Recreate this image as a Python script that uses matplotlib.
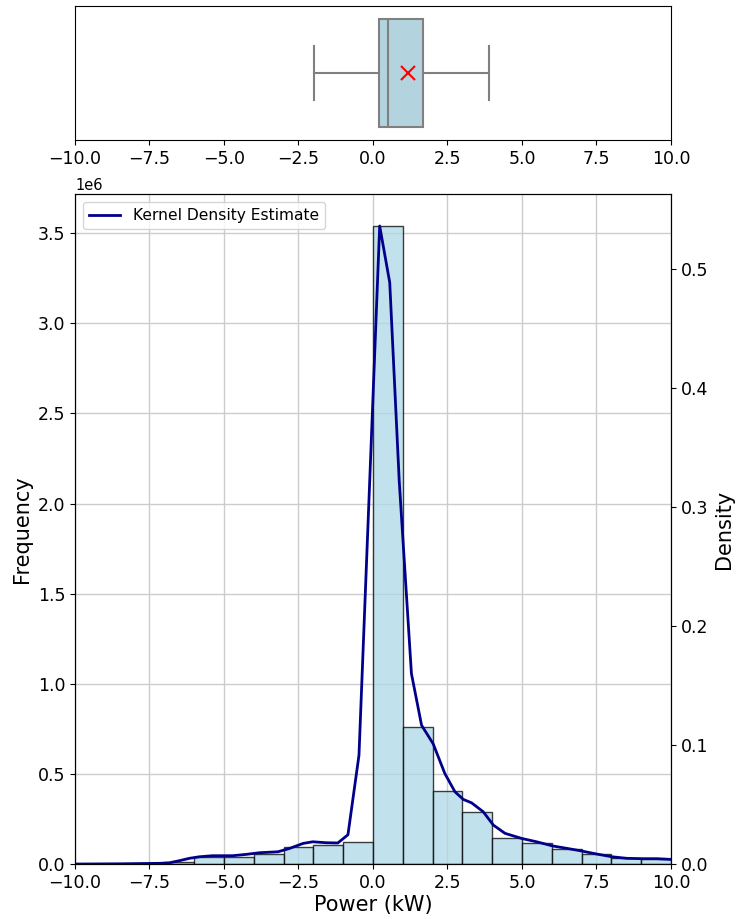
import numpy as np
import matplotlib
matplotlib.use("Agg")
import matplotlib.pyplot as plt

# histogram: 1 kW bins from -10 to 10, counts
bin_edges = list(range(-10, 11))
counts = [0, 0, 0.001e6, 0.009e6, 0.04e6, 0.04e6, 0.056e6, 0.095e6, 0.108e6, 0.12e6,
          3.54e6, 0.762e6, 0.406e6, 0.29e6, 0.147e6, 0.115e6, 0.086e6, 0.055e6, 0.031e6, 0.03e6]

# kernel density estimate (vertices of the polyline)
kde_x = [-10.0, -8.5, -7.17, -6.84, -6.50, -6.16, -5.83, -5.38, -4.71, -4.26, -3.81,
         -3.19, -2.80, -2.35, -2.02, -1.57, -1.18, -0.84, -0.47, 0.225, 0.562, 0.88,
         1.29, 1.63, 2.02, 2.41, 2.75, 3.03, 3.31, 3.70, 4.04, 4.43, 4.99, 5.49,
         6.05, 6.50, 6.95, 7.51, 8.02, 8.52, 9.02, 9.53, 10.0]
kde_y = [0.0, 0.0002, 0.0006, 0.001, 0.0028, 0.0048, 0.0061, 0.007, 0.007, 0.0081, 0.0095,
         0.0103, 0.0131, 0.0173, 0.0187, 0.0179, 0.0177, 0.0246, 0.0914, 0.536, 0.4885, 0.322,
         0.160, 0.1166, 0.101, 0.0761, 0.0607, 0.0543, 0.0514, 0.0439, 0.0327, 0.0258, 0.0215, 0.0187,
         0.0151, 0.0132, 0.0112, 0.0084, 0.0061, 0.0048, 0.0045, 0.0045, 0.0039]

# box plot summary
box_stats = dict(whislo=-1.97, q1=0.2, med=0.52, q3=1.68, whishi=3.88, mean=1.19, fliers=[])

plt.rcParams['font.family'] = ['DejaVu Sans']

fig = plt.figure(figsize=(7.38, 9.19), dpi=100)
ax_box = fig.add_axes([0.1016, 0.8477, 0.8076, 0.1458])
ax = fig.add_axes([0.1016, 0.0598, 0.8076, 0.7290])

# top: box plot
ax_box.bxp([box_stats], vert=False, widths=0.8, patch_artist=True, showmeans=True,
           boxprops=dict(facecolor='#b3d4df', edgecolor='#808080', linewidth=1.5),
           medianprops=dict(color='#808080', linewidth=1.5),
           whiskerprops=dict(color='#808080', linewidth=1.5),
           capprops=dict(color='#808080', linewidth=1.5),
           meanprops=dict(marker='x', markeredgecolor='red', markersize=10, markeredgewidth=1.5))
ax_box.set_ylim(0.5, 1.5)
ax_box.set_yticks([])
ax_box.set_xlim(-10, 10)
ax_box.tick_params(axis='x', labelsize=12.5)

# main: histogram + KDE on twin axis
ax.bar(bin_edges[:-1], counts, width=1, align='edge', color='lightblue', alpha=0.75,
       edgecolor='black', linewidth=1)
ax.set_xlim(-10, 10)
ax.set_ylim(0, max(counts) * 1.05)
ax.grid(True, color='#cccccc', linewidth=1)
ax.set_axisbelow(True)
ax.set_xlabel('Power (kW)', fontsize=15, labelpad=2)
ax.set_ylabel('Frequency', fontsize=15)
ax.tick_params(labelsize=12.5)
ax.yaxis.get_offset_text().set_fontsize(10.5)

ax2 = ax.twinx()
ax2.plot(kde_x, kde_y, color='darkblue', linewidth=2, label='Kernel Density Estimate')
ax2.set_ylim(0, max(kde_y) * 1.05)
ax2.set_ylabel('Density', fontsize=15)
ax2.tick_params(labelsize=12.5)
ax2.legend(loc='upper left', fontsize=11.2)

fig.savefig('out.png', dpi=100)
